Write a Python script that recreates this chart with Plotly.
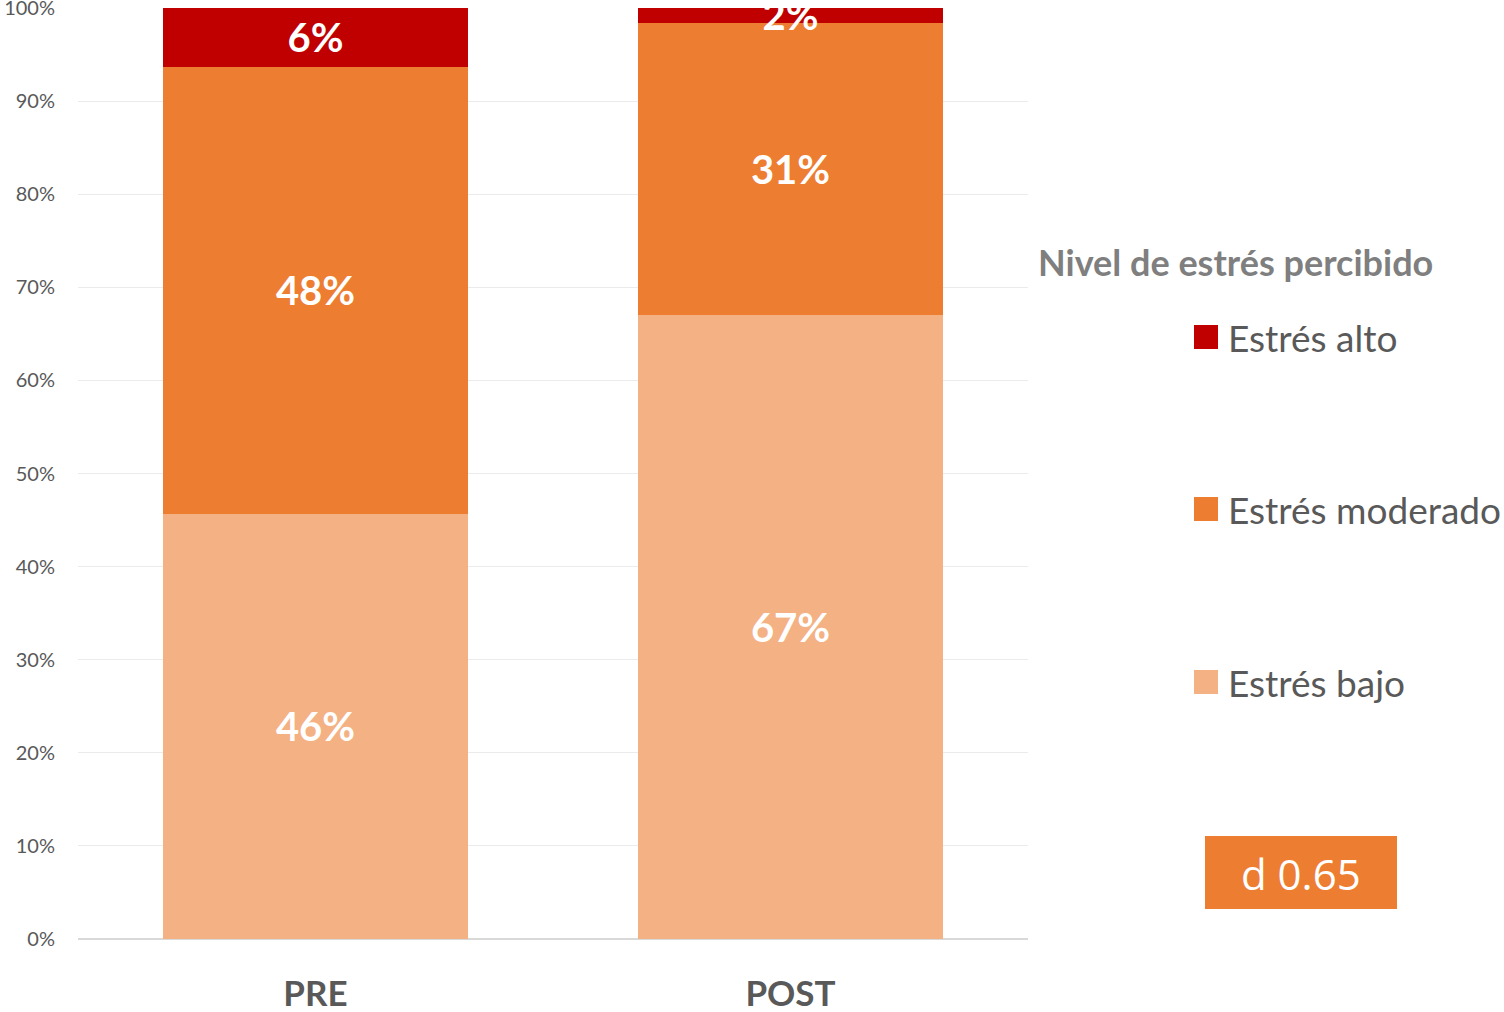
import plotly.graph_objects as go

categories = ["PRE", "POST"]
series_names = ["Estrés bajo", "Estrés moderado", "Estrés alto"]
bajo = [45.7, 67.0]
moderado = [48.0, 31.4]
alto = [6.3, 1.6]
y_ticks = [0, 10, 20, 30, 40, 50, 60, 70, 80, 90, 100]
legend_title = "Nivel de estrés percibido"
effect_label = "d 0.65"

colors = {"Estrés bajo": "#F4B183", "Estrés moderado": "#ED7D31", "Estrés alto": "#C00000"}
FONT = "Lato, 'Open Sans', sans-serif"

fig = go.Figure()
for name, vals in zip(series_names, [bajo, moderado, alto]):
    fig.add_trace(go.Bar(
        x=categories, y=vals, name=name,
        marker=dict(color=colors[name], line=dict(width=0)),
        text=[f"{round(v):d}%" for v in vals],
        textposition="inside", insidetextanchor="middle",
        constraintext="none",
        insidetextfont=dict(color="white", size=40, family=FONT, weight="bold"),
        showlegend=False, cliponaxis=False,
    ))

W, H = 1504, 1012
ml, mr, mt, mb = 78, 476, 8, 73
pw, ph = W - ml - mr, H - mt - mb

def px(x):
    return (x - ml) / pw

def py(y):
    return (H - mb - y) / ph

fig.update_layout(
    width=W, height=H,
    margin=dict(l=ml, r=mr, t=mt, b=mb, pad=0),
    barmode="stack", bargap=0.356,
    plot_bgcolor="white", paper_bgcolor="white",
    font=dict(family=FONT, color="#595959"),
    xaxis=dict(
        showgrid=False, showline=False, ticks="",
        tickfont=dict(size=35, color="#595959", family=FONT, weight="bold"),
        range=[-0.5, 1.5], ticklabelstandoff=31, automargin=False,
    ),
    yaxis=dict(
        range=[0, 100.0001], tickvals=y_ticks, ticktext=[f"{t}%" for t in y_ticks],
        showgrid=True, gridcolor="#EBEBEB", gridwidth=1,
        zeroline=True, zerolinecolor="#D9D9D9", zerolinewidth=2,
        ticks="", tickfont=dict(size=20, color="#595959", family=FONT),
        ticklabelstandoff=22, ticklabeloverflow="allow", automargin=False,
    ),
)

# legend title
fig.add_annotation(
    xref="paper", yref="paper", x=px(1036), y=py(262), xanchor="left", yanchor="middle",
    text=f"<b>{legend_title}</b>", showarrow=False,
    font=dict(size=36, color="#7F7F7F", family=FONT),
)
# manual legend items
for name, ycen in zip(["Estrés alto", "Estrés moderado", "Estrés bajo"], [337, 509, 682]):
    fig.add_shape(type="rect", xref="paper", yref="paper",
                  x0=px(1194), x1=px(1218), y0=py(ycen + 12), y1=py(ycen - 12),
                  fillcolor=colors[name], line=dict(width=0))
    fig.add_annotation(xref="paper", yref="paper", x=px(1226), y=py(ycen),
                       xanchor="left", yanchor="middle", text=name, showarrow=False,
                       font=dict(size=37, color="#595959", family=FONT))

# effect size box
fig.add_shape(type="rect", xref="paper", yref="paper",
              x0=px(1205), x1=px(1397), y0=py(909), y1=py(836),
              fillcolor="#ED7D31", line=dict(width=0))
fig.add_annotation(xref="paper", yref="paper", x=px(1301), y=py(873),
                   xanchor="center", yanchor="middle", text=effect_label, showarrow=False,
                   font=dict(size=42, color="white", family="'Open Sans', sans-serif"))

fig.write_html("out.html")
